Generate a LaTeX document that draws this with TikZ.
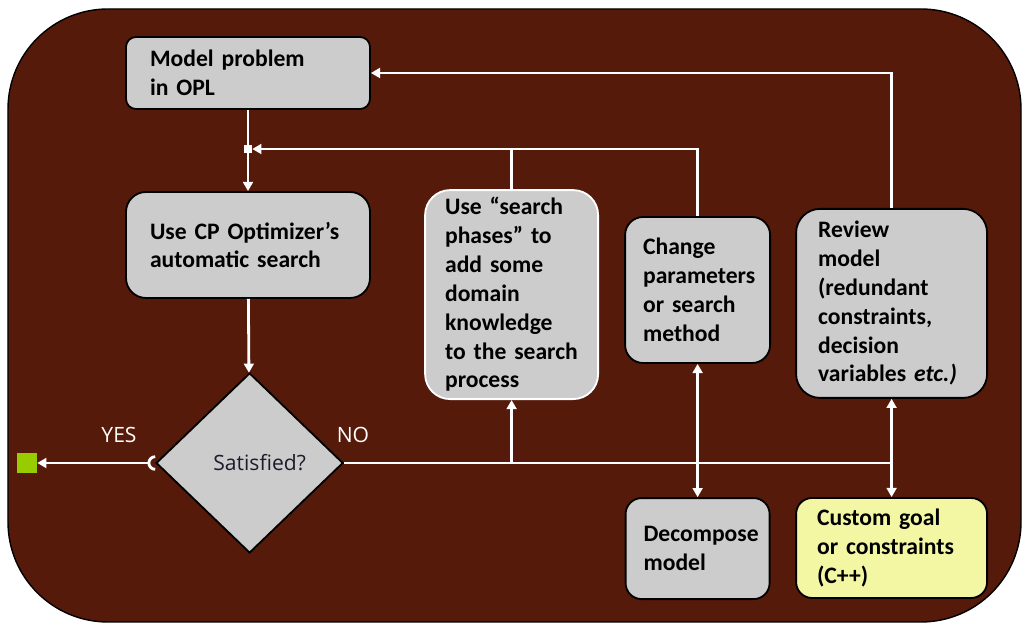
\documentclass[tikz,border=0pt]{standalone}
\usepackage{fontspec}
\newfontfamily\boxfont{Carlito}
\newfontfamily\labelfont{Open Sans}
\usetikzlibrary{shapes.geometric,arrows.meta}
\definecolor{bgbrown}{HTML}{561A0B}
\definecolor{boxgray}{HTML}{CCCCCC}
\definecolor{goalyellow}{HTML}{F3F6A3}
\definecolor{goalgreen}{HTML}{99CC00}
\definecolor{asktext}{HTML}{1C1C2C}
\begin{document}
\begin{tikzpicture}[>={Triangle[length=6.5pt,width=7pt]},
    box/.style={draw=black,line width=1.3pt,fill=boxgray,align=left,inner xsep=0pt,
        font=\boxfont\bfseries\fontsize{16.8}{20.5}\selectfont},
    flow/.style={draw=white,line width=2pt},
    tag/.style={text=white,font=\labelfont\fontsize{15}{18}\selectfont}]
        \useasboundingbox (0,0) rectangle (25.6,15.625);
        \filldraw [fill=bgbrown,draw=black,line width=1pt,rounded corners=2.5cm] (0.2,0.075) rectangle (25.525,15.4);

        \node [box,rounded corners=0.25cm,minimum width=6.1cm,minimum height=1.8cm,text width=4.9cm](model)at(6.2,13.8){Model problem\\in OPL};
        \node [box,rounded corners=0.5cm,minimum width=6.1cm,minimum height=2.65cm,text width=4.9cm](usecp)at(6.2,9.5){Use CP Optimizer’s\\automatic search};
        \node [box,draw=white,rounded corners=0.625cm,minimum width=4.325cm,minimum height=5.225cm,text width=3.325cm](phases)at(12.79,8.26){Use “search\\phases” to\\add some\\domain\\knowledge\\to the search\\process};
        \node [box,rounded corners=0.45cm,minimum width=3.625cm,minimum height=3.65cm,text width=2.725cm](change)at(17.44,8.375){Change\\parameters\\or search\\method};
        \node [box,rounded corners=0.6cm,minimum width=4.775cm,minimum height=4.725cm,text width=3.675cm](review)at(22.29,8.04){Review\\model\\(redundant\\constraints,\\decision\\variables \textit{etc.)}};
        \node [box,rounded corners=0.4cm,minimum width=3.6cm,minimum height=2.525cm,text width=2.7cm](decompose)at(17.44,1.91){Decompose\\model};
        \node [box,fill=goalyellow,rounded corners=0.4cm,minimum width=4.775cm,minimum height=2.5cm,text width=3.725cm](custom)at(22.29,1.925){Custom goal\\or constraints\\(C++)};
        \node [diamond,draw=black,line width=1.3pt,fill=boxgray,aspect=1.04,minimum width=4.675cm,minimum height=4.5cm,inner sep=0pt,
            text=asktext,font=\labelfont\fontsize{15}{18}\selectfont](satisfied)at(6.24,4.05){\hspace{0.5cm}Satisfied?};
        \node [fill=goalgreen,minimum size=0.5cm,inner sep=0pt](done)at(0.675,4.05){};
        \node [fill=white,minimum size=0.2cm,inner sep=0pt](junction)at(6.2,11.9){};

        \node [tag](yes)at(2.975,4.75){YES};
        \node [tag](no)at(8.825,4.75){NO};

        \draw [flow] (model) -- (junction);
        \draw [flow,->] (junction) -- (usecp);
        \draw [flow,->] (change) |- (junction);
        \draw [flow] (phases) -- (phases |- junction);
        \draw [flow,->] (review) |- (model);
        \draw [flow,->] (usecp) -- (satisfied);
        \draw [flow,{Arc Barb[reversed]}->] (satisfied) -- (done);
        \draw [flow] (satisfied) -- (satisfied -| review);
        \draw [flow,->] (phases |- satisfied) -- (phases);
        \draw [flow,<->] (change) -- (decompose);
        \draw [flow,<->] (review) -- (custom);
    \end{tikzpicture}
\end{document}
